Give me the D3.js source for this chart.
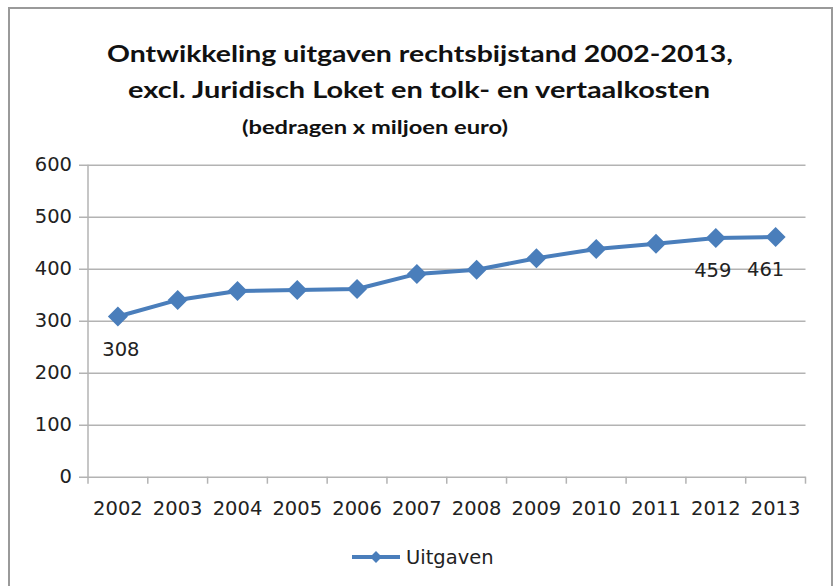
<!DOCTYPE html>
<html>
<head>
<meta charset="utf-8">
<script src="https://cdn.jsdelivr.net/npm/d3@7"></script>
<style>
  html, body { margin: 0; padding: 0; background: #fff; }
  svg { display: block; }
</style>
</head>
<body>
<svg id="chart" width="836" height="586"></svg>
<script>
// data
const years = ['2002', '2003', '2004', '2005', '2006', '2007', '2008', '2009', '2010', '2011', '2012', '2013'];
const uitgaven = [308, 340, 357, 359, 361, 390, 398, 420, 438, 448, 459, 461];
const yTicks = [0, 100, 200, 300, 400, 500, 600];
// only some points carry a data label
const labelled = ['2002', '2012', '2013'];
const labelShift = [3, -3, -10];
const titleLines = [
  'Ontwikkeling  uitgaven rechtsbijstand 2002-2013,',
  'excl. Juridisch Loket en tolk- en vertaalkosten'
];
const subtitle = '(bedragen x miljoen euro)';
const seriesName = 'Uitgaven';

const blue = '#4a7ebb';
const gridColor = '#b3b3b3';
const axisFont = '"DejaVu Sans", Verdana, sans-serif';
const titleFont = 'Lato, "Open Sans", sans-serif';

const svg = d3.select('#chart');

// outer frame (bottom edge is cut off in the reference)
svg.append('rect')
  .attr('x', 9).attr('y', 8)
  .attr('width', 823).attr('height', 600)
  .attr('fill', 'none')
  .attr('stroke', '#9a9a9a')
  .attr('stroke-width', 2);

// titles
const titleBox = [
  { text: titleLines[0], x: 420, y: 62, w: 626, size: 23 },
  { text: titleLines[1], x: 419, y: 98, w: 582, size: 23 },
  { text: subtitle, x: 375, y: 134, w: 266, size: 19 }
];
svg.selectAll('text.title')
  .data(titleBox)
  .enter().append('text')
  .attr('class', 'title')
  .attr('x', d => d.x)
  .attr('y', d => d.y)
  .attr('text-anchor', 'middle')
  .attr('font-family', titleFont)
  .attr('font-weight', 'bold')
  .attr('font-size', d => d.size)
  .attr('fill', '#111')
  .attr('textLength', d => d.w)
  .attr('lengthAdjust', 'spacingAndGlyphs')
  .text(d => d.text);

// plot area
const plotLeft = 88, plotRight = 805.5, plotTop = 164.7, plotBottom = 476.7;

const x = d3.scaleBand().domain(years).range([plotLeft, plotRight]);
const y = d3.scaleLinear().domain([0, 600]).range([plotBottom, plotTop]);

// horizontal gridlines + y labels
const yAxis = d3.axisLeft(y)
  .tickValues(yTicks)
  .tickSize(-(plotRight - plotLeft))
  .tickPadding(16);
const gy = svg.append('g')
  .attr('transform', `translate(${plotLeft},0)`)
  .call(yAxis);
gy.select('.domain').remove();
gy.selectAll('.tick line')
  .attr('x1', -9)
  .attr('stroke', gridColor)
  .attr('stroke-width', 1.5);
gy.selectAll('.tick text')
  .attr('font-family', axisFont)
  .attr('font-size', 19.5)
  .attr('fill', '#222');

// vertical axis line
svg.append('line')
  .attr('x1', plotLeft).attr('x2', plotLeft)
  .attr('y1', plotTop).attr('y2', plotBottom + 7)
  .attr('stroke', gridColor)
  .attr('stroke-width', 1.5);

// category tick marks on the boundaries
const boundaries = years.map(d => x(d)).concat([x(years[years.length - 1]) + x.bandwidth()]);
svg.selectAll('line.xtick')
  .data(boundaries.slice(1))
  .enter().append('line')
  .attr('class', 'xtick')
  .attr('x1', d => d).attr('x2', d => d)
  .attr('y1', plotBottom).attr('y2', plotBottom + 7)
  .attr('stroke', gridColor)
  .attr('stroke-width', 1.5);

// x labels
svg.selectAll('text.xlab')
  .data(years)
  .enter().append('text')
  .attr('class', 'xlab')
  .attr('x', d => x(d) + x.bandwidth() / 2)
  .attr('y', 515)
  .attr('text-anchor', 'middle')
  .attr('font-family', axisFont)
  .attr('font-size', 19.5)
  .attr('fill', '#222')
  .text(d => d);

// series
const points = years.map((yr, i) => ({ year: yr, value: uitgaven[i] }));
const cx = d => x(d.year) + x.bandwidth() / 2;

svg.append('path')
  .datum(points)
  .attr('fill', 'none')
  .attr('stroke', blue)
  .attr('stroke-width', 4)
  .attr('stroke-linejoin', 'round')
  .attr('d', d3.line().x(cx).y(d => y(d.value)));

const diamond = d3.symbol().type(d3.symbolSquare).size(200);
svg.selectAll('path.marker')
  .data(points)
  .enter().append('path')
  .attr('class', 'marker')
  .attr('d', diamond)
  .attr('transform', d => `translate(${cx(d)},${y(d.value)}) rotate(45)`)
  .attr('fill', blue);

// data labels below the marked points
svg.selectAll('text.dlab')
  .data(points.filter(d => labelled.includes(d.year)))
  .enter().append('text')
  .attr('class', 'dlab')
  .attr('x', (d, i) => cx(d) + labelShift[i])
  .attr('y', d => y(d.value) + 39)
  .attr('text-anchor', 'middle')
  .attr('font-family', axisFont)
  .attr('font-size', 19.5)
  .attr('fill', '#222')
  .text(d => d.value);

// legend
const lg = svg.append('g').attr('transform', 'translate(352,557)');
lg.append('line')
  .attr('x1', 0).attr('x2', 48)
  .attr('stroke', blue).attr('stroke-width', 4);
lg.append('path')
  .attr('d', d3.symbol().type(d3.symbolSquare).size(70))
  .attr('transform', 'translate(24,0) rotate(45)')
  .attr('fill', blue);
lg.append('text')
  .attr('x', 54)
  .attr('dy', '0.35em')
  .attr('font-family', axisFont)
  .attr('font-size', 19.5)
  .attr('fill', '#222')
  .text(seriesName);
</script>
</body>
</html>
